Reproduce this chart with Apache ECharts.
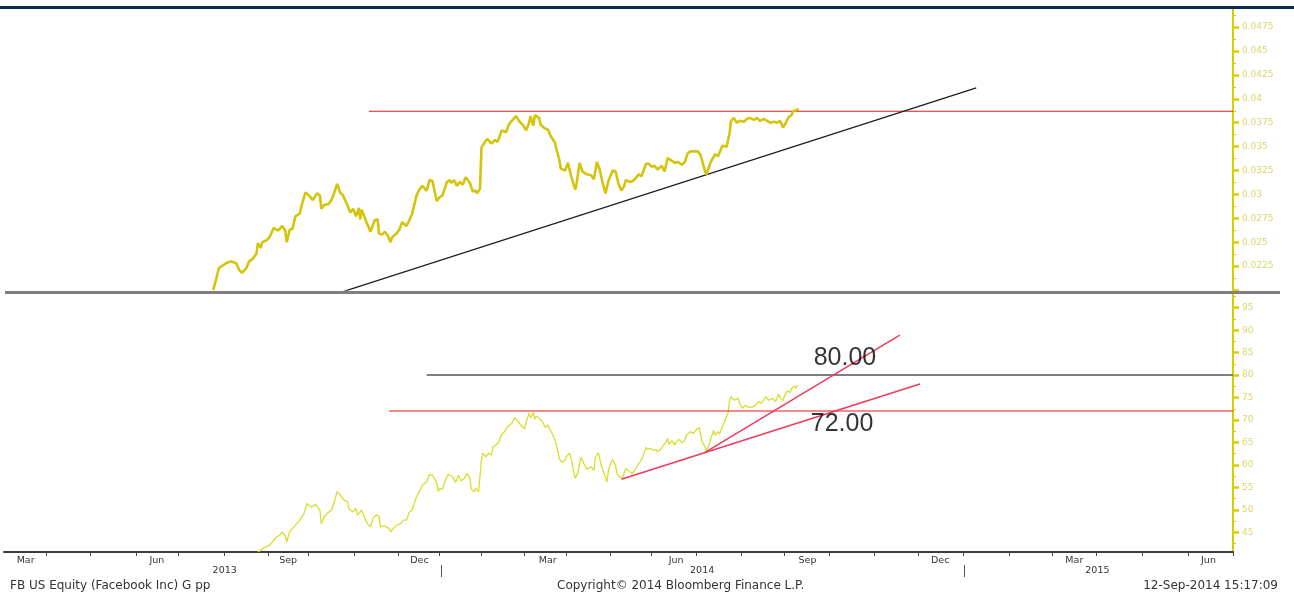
<!DOCTYPE html>
<html><head><meta charset="utf-8">
<script src="https://cdn.jsdelivr.net/npm/echarts@6/dist/echarts.min.js"></script>
<style>html,body{margin:0;padding:0;background:#fff}#c{width:1294px;height:594px}</style>
</head><body><div id="c"></div>
<script>
// ---------- DATA ----------
const topDates = [
'2013-07-24','2013-07-25','2013-07-28','2013-07-29','2013-08-02','2013-08-05','2013-08-09','2013-08-11','2013-08-13','2013-08-16',
'2013-08-18','2013-08-20','2013-08-23','2013-08-24','2013-08-26','2013-08-27','2013-08-30','2013-09-01','2013-09-02','2013-09-04',
'2013-09-07','2013-09-10','2013-09-12','2013-09-13','2013-09-15','2013-09-17','2013-09-19','2013-09-22','2013-09-24','2013-09-26',
'2013-09-29','2013-10-01','2013-10-04','2013-10-06','2013-10-07','2013-10-09','2013-10-12','2013-10-14','2013-10-16','2013-10-18',
'2013-10-20','2013-10-22','2013-10-25','2013-10-27','2013-10-29','2013-10-31','2013-11-02','2013-11-03','2013-11-04','2013-11-07',
'2013-11-09','2013-11-10','2013-11-13','2013-11-15','2013-11-16','2013-11-18','2013-11-20','2013-11-22','2013-11-24','2013-11-25',
'2013-11-28','2013-11-30','2013-12-02','2013-12-05','2013-12-07','2013-12-09','2013-12-12','2013-12-14','2013-12-16','2013-12-19',
'2013-12-21','2013-12-23','2013-12-26','2013-12-28','2013-12-30','2014-01-02','2014-01-04','2014-01-05','2014-01-07','2014-01-09',
'2014-01-11','2014-01-13','2014-01-15','2014-01-18','2014-01-20','2014-01-22','2014-01-23','2014-01-25','2014-01-26','2014-01-28',
'2014-01-30','2014-02-02','2014-02-04','2014-02-06','2014-02-07','2014-02-09','2014-02-12','2014-02-14','2014-02-16','2014-02-19',
'2014-02-21','2014-02-24','2014-02-26','2014-02-28','2014-03-01','2014-03-03','2014-03-04','2014-03-07','2014-03-08','2014-03-11',
'2014-03-13','2014-03-15','2014-03-18','2014-03-19','2014-03-21','2014-03-22','2014-03-25','2014-03-27','2014-03-29','2014-04-01',
'2014-04-02','2014-04-04','2014-04-06','2014-04-09','2014-04-12','2014-04-14','2014-04-16','2014-04-18','2014-04-20','2014-04-22',
'2014-04-24','2014-04-27','2014-04-29','2014-05-01','2014-05-03','2014-05-05','2014-05-06','2014-05-09','2014-05-11','2014-05-13',
'2014-05-15','2014-05-17','2014-05-20','2014-05-22','2014-05-24','2014-05-26','2014-05-28','2014-05-31','2014-06-02','2014-06-04',
'2014-06-07','2014-06-09','2014-06-11','2014-06-14','2014-06-16','2014-06-18','2014-06-20','2014-06-23','2014-06-25','2014-06-27',
'2014-06-28','2014-06-30','2014-07-01','2014-07-03','2014-07-04','2014-07-07','2014-07-09','2014-07-10','2014-07-12','2014-07-15',
'2014-07-17','2014-07-18','2014-07-20','2014-07-22','2014-07-24','2014-07-27','2014-07-29','2014-07-31','2014-08-03','2014-08-05',
'2014-08-07','2014-08-10','2014-08-12','2014-08-14','2014-08-17','2014-08-19','2014-08-21','2014-08-23','2014-08-25','2014-08-27',
'2014-08-29','2014-08-30','2014-09-01','2014-09-03'
];
const topValues = [
0.0200,0.0205,0.0223,0.0221,0.0228,0.0230,0.0228,0.0221,0.0218,0.0223,
0.0230,0.0232,0.0238,0.0249,0.0244,0.0250,0.0252,0.0255,0.0253,0.0265,
0.0262,0.0267,0.0262,0.0250,0.0263,0.0264,0.0277,0.0280,0.0292,0.0302,
0.0298,0.0294,0.0301,0.0299,0.0285,0.0289,0.0290,0.0294,0.0302,0.0311,
0.0302,0.0299,0.0289,0.0281,0.0285,0.0277,0.0286,0.0274,0.0284,0.0272,
0.0265,0.0261,0.0273,0.0274,0.0259,0.0258,0.0261,0.0257,0.0250,0.0255,
0.0259,0.0263,0.0271,0.0267,0.0273,0.0280,0.0299,0.0305,0.0309,0.0304,
0.0315,0.0314,0.0293,0.0297,0.0299,0.0313,0.0315,0.0312,0.0315,0.0309,
0.0313,0.0310,0.0318,0.0312,0.0303,0.0304,0.0301,0.0306,0.0349,0.0354,
0.0358,0.0353,0.0357,0.0355,0.0358,0.0367,0.0365,0.0373,0.0377,0.0382,
0.0377,0.0372,0.0367,0.0375,0.0382,0.0372,0.0383,0.0380,0.0373,0.0369,
0.0368,0.0361,0.0354,0.0347,0.0336,0.0327,0.0325,0.0333,0.0320,0.0305,
0.0312,0.0333,0.0324,0.0321,0.0320,0.0316,0.0334,0.0326,0.0312,0.0301,
0.0314,0.0325,0.0324,0.0311,0.0304,0.0309,0.0315,0.0313,0.0314,0.0317,
0.0321,0.0319,0.0332,0.0332,0.0329,0.0330,0.0326,0.0330,0.0324,0.0338,
0.0335,0.0333,0.0334,0.0331,0.0334,0.0343,0.0345,0.0345,0.0345,0.0341,
0.0335,0.0324,0.0321,0.0330,0.0334,0.0342,0.0340,0.0341,0.0351,0.0350,
0.0364,0.0377,0.0380,0.0375,0.0377,0.0376,0.0379,0.0380,0.0378,0.0380,
0.0377,0.0379,0.0377,0.0375,0.0376,0.0375,0.0377,0.0370,0.0375,0.0381,
0.0383,0.0387,0.0388,0.0389
];
const bottomDates = [
'2013-08-24','2013-08-26','2013-08-28','2013-09-01','2013-09-03','2013-09-06','2013-09-08','2013-09-10','2013-09-12','2013-09-13',
'2013-09-15','2013-09-18','2013-09-22','2013-09-25','2013-09-27','2013-09-30','2013-10-01','2013-10-03','2013-10-06','2013-10-07',
'2013-10-09','2013-10-11','2013-10-14','2013-10-16','2013-10-18','2013-10-21','2013-10-23','2013-10-25','2013-10-26','2013-10-29',
'2013-10-31','2013-11-01','2013-11-04','2013-11-06','2013-11-08','2013-11-10','2013-11-12','2013-11-14','2013-11-16','2013-11-17',
'2013-11-20','2013-11-21','2013-11-23','2013-11-24','2013-11-27','2013-11-29','2013-12-01','2013-12-03','2013-12-05','2013-12-07',
'2013-12-09','2013-12-10','2013-12-12','2013-12-14','2013-12-16','2013-12-19','2013-12-21','2013-12-23','2013-12-26','2013-12-27',
'2013-12-28','2013-12-30','2014-01-01','2014-01-03','2014-01-06','2014-01-07','2014-01-08','2014-01-10','2014-01-12','2014-01-14',
'2014-01-16','2014-01-18','2014-01-19','2014-01-21','2014-01-22','2014-01-24','2014-01-26','2014-01-27','2014-01-29','2014-01-31',
'2014-02-02','2014-02-03','2014-02-05','2014-02-07','2014-02-09','2014-02-11','2014-02-13','2014-02-16','2014-02-18','2014-02-20',
'2014-02-22','2014-02-25','2014-02-26','2014-02-28','2014-03-01','2014-03-03','2014-03-04','2014-03-05','2014-03-06','2014-03-08',
'2014-03-10','2014-03-11','2014-03-13','2014-03-15','2014-03-16','2014-03-18','2014-03-19','2014-03-20','2014-03-21','2014-03-23',
'2014-03-25','2014-03-26','2014-03-28','2014-03-29','2014-03-31','2014-04-01','2014-04-03','2014-04-04','2014-04-05','2014-04-07',
'2014-04-09','2014-04-10','2014-04-12','2014-04-14','2014-04-15','2014-04-17','2014-04-18','2014-04-19','2014-04-21','2014-04-23',
'2014-04-24','2014-04-26','2014-04-27','2014-04-29','2014-04-30','2014-05-02','2014-05-04','2014-05-06','2014-05-07','2014-05-09',
'2014-05-11','2014-05-13','2014-05-14','2014-05-16','2014-05-18','2014-05-20','2014-05-21','2014-05-23','2014-05-25','2014-05-27',
'2014-05-28','2014-05-30','2014-05-31','2014-06-03','2014-06-04','2014-06-05','2014-06-07','2014-06-09','2014-06-10','2014-06-12',
'2014-06-14','2014-06-16','2014-06-17','2014-06-20','2014-06-22','2014-06-24','2014-06-26','2014-06-27','2014-06-28','2014-06-30',
'2014-07-01','2014-07-03','2014-07-04','2014-07-06','2014-07-07','2014-07-09','2014-07-10','2014-07-12','2014-07-14','2014-07-16',
'2014-07-17','2014-07-18','2014-07-20','2014-07-21','2014-07-23','2014-07-24','2014-07-26','2014-07-28','2014-07-30','2014-07-31',
'2014-08-02','2014-08-04','2014-08-06','2014-08-08','2014-08-10','2014-08-11','2014-08-13','2014-08-16','2014-08-18','2014-08-20',
'2014-08-21','2014-08-23','2014-08-24','2014-08-26','2014-08-28','2014-08-29','2014-08-31','2014-09-01','2014-09-02'
];
const bottomValues = [
40.6,41.0,41.5,42.1,42.8,44.0,44.3,45.1,44.2,42.8,
45.1,46.2,47.7,49.2,51.4,50.6,50.3,51.2,49.9,46.9,
48.4,49.2,49.9,51.8,54.1,52.9,52.1,51.8,50.3,49.5,
50.3,48.8,49.9,48.1,46.9,46.2,48.2,48.8,48.6,46.2,
46.4,46.6,45.8,45.1,46.2,46.7,46.9,47.7,47.7,49.5,
49.9,51.0,52.9,54.1,55.5,56.2,57.9,57.7,56.1,54.0,
54.7,54.6,56.6,57.9,57.3,57.3,56.1,57.7,56.4,57.0,
58.1,57.0,54.6,54.0,54.9,54.0,61.1,62.6,61.8,62.6,
62.2,64.0,64.4,65.1,66.8,67.4,68.5,69.2,70.5,69.8,
69.0,68.0,69.6,71.5,70.5,71.7,70.2,70.9,71.1,70.1,
69.2,68.3,68.9,67.6,67.0,65.5,64.4,62.9,61.4,60.5,
61.1,61.9,62.6,61.7,58.4,57.0,58.4,60.3,61.7,60.3,
59.0,59.2,59.6,58.8,61.7,62.7,61.4,59.9,58.1,56.2,
58.8,60.7,61.2,59.9,57.9,57.3,57.2,59.2,59.6,58.4,
58.1,59.2,59.0,60.7,61.9,63.9,63.4,63.7,63.3,63.4,
62.9,63.4,63.3,65.1,65.9,64.6,65.4,64.4,65.1,65.7,
64.9,65.5,66.6,67.4,67.0,67.9,68.3,66.6,65.1,64.0,
63.1,64.6,65.9,67.7,66.6,67.4,66.9,68.5,70.0,71.6,
74.4,75.2,74.4,74.1,74.8,73.7,72.6,73.3,72.8,73.1,
72.9,73.3,74.1,73.7,74.6,75.2,74.4,74.8,74.1,75.8,
75.0,74.3,75.3,76.5,76.1,77.0,77.6,77.0,77.8
];
// drawn study lines (endpoints as date / value)
const topResistanceDates = ['2013-11-09','2015-07-01'];
const topResistanceValues = [0.0387, 0.0387];
const topTrendDates = ['2013-10-21','2015-01-04'];
const topTrendValues = [0.01978, 0.04115];
const level80Dates = ['2013-12-19','2015-07-01'];
const level80Values = [80, 80];
const level72Dates = ['2013-11-23','2015-07-01'];
const level72Values = [72, 72];
const trendADates = ['2014-05-03','2014-11-26'];
const trendAValues = [56.8, 78.0];
const trendBDates = ['2014-06-30','2014-11-12'];
const trendBValues = [62.8, 88.9];
const levelLabelDates = ['2014-10-05','2014-10-03'];
const levelLabelValues = [83.8, 69.1];
const levelLabelTexts = ['80.00','72.00'];
// axis ticks / labels
const monthTickDates = ['2013-03-30','2013-04-30','2013-06-01','2013-06-30','2013-08-01','2013-08-31','2013-09-28','2013-10-30','2013-11-29','2013-12-28',
  '2014-01-26','2014-02-25','2014-03-26','2014-04-25','2014-05-24','2014-06-24','2014-07-25','2014-08-24','2014-09-24','2014-10-25','2014-11-25','2014-12-26',
  '2015-01-27','2015-02-26','2015-03-28','2015-04-29','2015-05-31','2015-07-01'];
const monthLabelDates = ['2013-03-16','2013-06-15','2013-09-14','2013-12-14','2014-03-13','2014-06-10','2014-09-09','2014-12-10','2015-03-13','2015-06-14'];
const monthNames = ['Jan','Feb','Mar','Apr','May','Jun','Jul','Aug','Sep','Oct','Nov','Dec'];
const yearLabelDates = ['2013-08-01','2014-06-28','2015-03-29'];
const yearSeparatorDates = ['2013-12-29','2014-12-27'];
const topTickValues = [0.02,0.0225,0.025,0.0275,0.03,0.0325,0.035,0.0375,0.04,0.0425,0.045,0.0475];
const bottomTickValues = [45,50,55,60,65,70,75,80,85,90,95];
const footerLeft = 'FB US Equity (Facebook Inc) G pp';
const footerCenter = 'Copyright\u00A9 2014 Bloomberg Finance L.P.';
const footerRight = '12-Sep-2014 15:17:09';

// ---------- CHART ----------
const FONT = 'DejaVu Sans';
const YEL = '#d6cf00';
const T = s => Date.parse(s + 'T00:00:00Z');
const halfSteps = a => a.slice(0, -1).map((v, i) => (v + a[i + 1]) / 2).concat([a[a.length - 1] + (a[1] - a[0]) / 2]);
const topMinor = halfSteps(topTickValues);
const bottomMinor = [42.5].concat(halfSteps(bottomTickValues));
const pairs = (d, v) => d.map((x, i) => [T(x), v[i]]);
const X_MIN = T('2013-03-01'), X_MAX = T('2015-07-01');

function yAxisMain(grid, min, max, ticks, fmt) {
  return {
    type: 'value', gridIndex: grid, position: 'right', min: min, max: max,
    splitLine: { show: false },
    axisLine: { show: true, lineStyle: { color: YEL, width: 2 } },
    axisTick: { show: true, customValues: ticks, length: 6, lineStyle: { color: YEL, width: 2.5 } },
    axisLabel: { show: true, customValues: ticks, formatter: fmt, color: '#d9d86a', fontFamily: FONT, fontSize: 9, margin: 9 }
  };
}
function yAxisMinor(grid, min, max, ticks) {
  return {
    type: 'value', gridIndex: grid, position: 'right', min: min, max: max,
    splitLine: { show: false }, axisLine: { show: false }, axisLabel: { show: false },
    axisTick: { show: true, customValues: ticks, length: 3, lineStyle: { color: YEL, width: 1 } }
  };
}
function lineSeries(x, y, d, v, color, width, z) {
  return { type: 'line', xAxisIndex: x, yAxisIndex: y, data: pairs(d, v), showSymbol: false, symbol: 'none',
    lineStyle: { color: color, width: width }, z: z, silent: true, clip: true };
}
const footStyle = { fontFamily: FONT, fontSize: 12, fontWeight: 'normal', color: '#333' };

const chart = echarts.init(document.getElementById('c'), null, { renderer: 'canvas' });
chart.setOption({
  animation: false,
  backgroundColor: '#ffffff',
  title: [
    { text: footerLeft, left: 10, top: 580, padding: 0, textStyle: footStyle },
    { text: footerCenter, left: 557, top: 580, padding: 0, textStyle: footStyle },
    { text: footerRight, right: 16, top: 580, padding: 0, textStyle: footStyle }
  ],
  graphic: [
    { type: 'rect', shape: { x: 0, y: 6, width: 1294, height: 3 }, style: { fill: '#0d2a4f' }, z: 10 },
    { type: 'rect', shape: { x: 5, y: 291, width: 1275, height: 3 }, style: { fill: '#7f7f7f' }, z: 10 }
  ],
  grid: [
    { left: 4, right: 61, top: 8, height: 282 },
    { left: 4, right: 61, top: 292, height: 260 }
  ],
  xAxis: [
    { type: 'value', gridIndex: 0, min: X_MIN, max: X_MAX, show: false, splitLine: { show: false } },
    { type: 'value', gridIndex: 1, min: X_MIN, max: X_MAX, position: 'bottom',
      splitLine: { show: false },
      axisLine: { show: true, lineStyle: { color: '#3c3c3c', width: 2 } },
      axisTick: { show: true, customValues: monthTickDates.map(T), length: 4, lineStyle: { color: '#444', width: 1 } },
      axisLabel: { show: true, customValues: monthLabelDates.map(T), margin: 4, color: '#333', fontFamily: FONT, fontSize: 9.5,
        formatter: v => monthNames[new Date(v).getUTCMonth()] } },
    { type: 'value', gridIndex: 1, min: X_MIN, max: X_MAX, position: 'bottom', offset: 13,
      splitLine: { show: false },
      axisLine: { show: false },
      axisTick: { show: true, customValues: yearSeparatorDates.map(T), length: 12, lineStyle: { color: '#555', width: 1 } },
      axisLabel: { show: true, customValues: yearLabelDates.map(T), margin: 1, color: '#333', fontFamily: FONT, fontSize: 9.5,
        formatter: v => String(new Date(v).getUTCFullYear()) } }
  ],
  yAxis: [
    yAxisMain(0, 0.02, 0.0495, topTickValues, v => (Math.abs(v - 0.02) < 1e-9 ? '' : String(+v.toFixed(4)))),
    yAxisMinor(0, 0.02, 0.0495, topMinor),
    yAxisMain(1, 40.6, 98.5, bottomTickValues, v => String(v)),
    yAxisMinor(1, 40.6, 98.5, bottomMinor)
  ],
  series: [
    lineSeries(0, 0, topResistanceDates, topResistanceValues, '#e81818', 1.2, 2),
    lineSeries(0, 0, topTrendDates, topTrendValues, '#1e1e1e', 1.3, 2),
    lineSeries(0, 0, topDates, topValues, '#d4c40c', 2.6, 3),
    lineSeries(1, 2, bottomDates, bottomValues, '#d6df2e', 1.3, 2),
    lineSeries(1, 2, level80Dates, level80Values, '#808080', 2, 3),
    lineSeries(1, 2, level72Dates, level72Values, '#e81818', 1.2, 3),
    lineSeries(1, 2, trendADates, trendAValues, '#f03a5c', 1.5, 4),
    lineSeries(1, 2, trendBDates, trendBValues, '#f03a5c', 1.5, 4),
    { type: 'scatter', xAxisIndex: 1, yAxisIndex: 2, symbol: 'circle', symbolSize: 2, silent: true, z: 6, clip: false,
      data: levelLabelDates.map((d, i) => ({ value: [T(d), levelLabelValues[i]], name: levelLabelTexts[i] })),
      itemStyle: { color: 'rgba(0,0,0,0)' },
      label: { show: true, position: 'inside', formatter: '{b}', fontFamily: 'Liberation Sans', fontSize: 25, color: '#000',
        textBorderWidth: 0 },
      labelLayout: { hideOverlap: false } }
  ]
});
</script>
</body></html>
